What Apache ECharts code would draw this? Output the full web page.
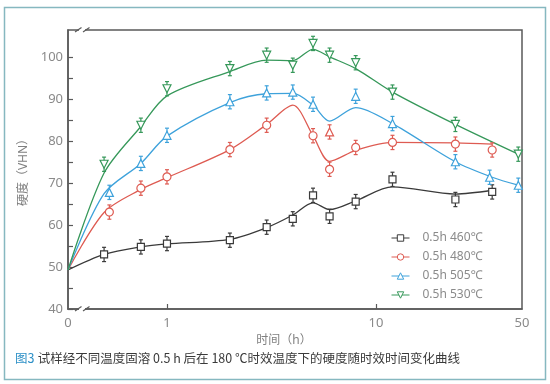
<!DOCTYPE html>
<html><head><meta charset="utf-8">
<script src="https://cdn.jsdelivr.net/npm/echarts@6/dist/echarts.min.js"></script>
<style>html,body{margin:0;padding:0;background:#fff}#c{width:550px;height:384px}</style>
</head><body><div id="c"></div>
<script>
// ---- data (time in h, hardness in VHN) ----
const seriesNames = ['0.5h 460℃', '0.5h 480℃', '0.5h 505℃', '0.5h 530℃'];
const colors = ['#3a3a3a', '#de5b52', '#3ea2db', '#36985a'];
// fitted curves (knots)
const curve460 = [[0,49.3],[0.5,53],[0.75,54.8],[1,55.5],[2,56.6],[3,59.4],[4,62.4],[5,65.3],[6,63.7],[8,65.8],[12,69.1],[24,67.4],[36,68.3]];
const curve480 = [[0,49.3],[0.5,63],[0.75,68.5],[1,71.3],[2,78],[3,84],[4,88.6],[5,81.3],[6,75.2],[8,77.8],[12,79.7],[24,79.6],[36,79.3]];
const curve505 = [[0,49.3],[0.5,67.5],[0.75,74.7],[1,81.2],[2,89.2],[3,91.3],[4,91.4],[5,88.6],[6,84.8],[8,88],[12,84.2],[24,75.1],[36,71.4],[48,69.5]];
const curve530 = [[0,49.3],[0.5,72.4],[0.75,83.5],[1,90.8],[2,96.6],[3,99.3],[4,99.2],[5,101.9],[6,100.1],[8,97.3],[12,91.7],[24,84],[48,76.9]];
// measured points
const pts460 = [[0.5,53],[0.75,54.8],[1,55.6],[2,56.4],[3,59.5],[4,61.5],[5,67.1],[6,62.1],[8,65.6],[12,70.9],[24,66.1],[36,67.9]];
const pts480 = [[0.53,63.1],[0.75,68.8],[1,71.5],[2,78],[3,83.8],[5,81.3],[6,73.3],[8,78.5],[12,79.7],[24,79.3],[36,77.9]];
const pts480Triangle = [[6,82.2]];
const pts505 = [[0.53,67.8],[0.75,74.7],[1,81.4],[2,89.4],[3,91.5],[4,91.7],[5,88.8],[8,90.7],[12,84.2],[24,75.1],[35,71.4],[48,69.5]];
const pts530 = [[0.5,74.5],[0.75,83.8],[1,92.5],[2,97.3],[3,100.5],[4,98.1],[5,103.3],[6,100.5],[8,98.7],[12,91.7],[24,84],[48,76.9]];
const errHalf = 1.7;
// axes
const X_ZERO = 0.336;            // log-axis position that stands for t = 0
const X_MAX = 50;
const xLabelValues = [X_ZERO, 1, 10, 50];
const xTickValues = [1, 10];
const yLabelValues = [40, 50, 60, 70, 80, 90, 100];
const yTickValues = [40, 45, 50, 55, 60, 65, 70, 75, 80, 85, 90, 95, 100];
const Y_MIN = 40, Y_MAX = 106.5;

const downTri = 'path://M0,0L10,0L5,9Z';
const symbols = ['rect', 'circle', 'triangle', downTri];
const curves = [curve460, curve480, curve505, curve530];
const points = [pts460, pts480, pts505, pts530];

const toX = t => (t === 0 ? X_ZERO : t);
const mapPts = arr => arr.map(p => [toX(p[0]), p[1]]);

const series = [];
curves.forEach((c, i) => {
  series.push({
    name: seriesNames[i], type: 'line', smooth: 0.3, data: mapPts(c),
    showSymbol: false, symbol: symbols[i], symbolSize: 8,
    lineStyle: { color: colors[i], width: 1.3 },
    itemStyle: { color: '#fff', borderColor: colors[i], borderWidth: 1 },
    z: 2, silent: true
  });
});
points.forEach((p, i) => {
  let data = mapPts(p);
  if (i === 1) data = data.concat(pts480Triangle.map(q => ({ value: [q[0], q[1]], symbol: 'triangle' })));
  series.push({
    name: seriesNames[i], type: 'custom', z: 3, silent: true,
    data: data.map(d => (Array.isArray(d) ? d : d.value)),
    renderItem: (params, api) => {
      const x = api.value(0), y = api.value(1);
      const top = api.coord([x, y + errHalf]);
      const bot = api.coord([x, y - errHalf]);
      const st = { stroke: colors[i], lineWidth: 1.2 };
      return { type: 'group', children: [
        { type: 'line', shape: { x1: top[0], y1: top[1], x2: bot[0], y2: bot[1] }, style: st },
        { type: 'line', shape: { x1: top[0] - 2, y1: top[1], x2: top[0] + 2, y2: top[1] }, style: st },
        { type: 'line', shape: { x1: bot[0] - 2, y1: bot[1], x2: bot[0] + 2, y2: bot[1] }, style: st }
      ] };
    }
  });
  series.push({
    name: seriesNames[i], type: 'scatter', z: 4, silent: true, data: data,
    symbol: symbols[i], symbolSize: i === 0 ? 7 : 8,
    itemStyle: { color: '#fff', borderColor: colors[i], borderWidth: 1.2, opacity: 1 }
  });
});

const chart = echarts.init(document.getElementById('c'), null, { renderer: 'canvas' });
const axisColor = '#5a5a5a';
chart.setOption({
  animation: false,
  backgroundColor: '#fff',
  textStyle: { fontFamily: '"Noto Sans", "Noto Sans CJK SC", sans-serif' },
  grid: { left: 68, right: 28, top: 30, bottom: 75, show: true, borderColor: axisColor, borderWidth: 1.5, backgroundColor: 'transparent' },
  xAxis: {
    type: 'log', logBase: 10, min: X_ZERO, max: X_MAX,
    name: '时间（h）', nameLocation: 'middle', nameGap: 24,
    nameTextStyle: { color: '#808080', fontSize: 12, padding: [0, 22, 0, 0] },
    axisLine: { lineStyle: { color: axisColor, width: 1.5 } },
    axisTick: { inside: true, length: 5, customValues: xTickValues, lineStyle: { color: axisColor, width: 1.2 } },
    axisLabel: { customValues: xLabelValues, color: '#8a8a8a', fontSize: 13, margin: 8,
      formatter: v => (v < 0.5 ? '0' : String(Math.round(v))) },
    minorTick: { show: false }, splitLine: { show: false }
  },
  yAxis: {
    type: 'value', min: Y_MIN, max: Y_MAX,
    name: '硬度（VHN）', nameLocation: 'middle', nameGap: 31, nameRotate: 90,
    nameTextStyle: { color: '#808080', fontSize: 12 },
    axisLine: { show: true, lineStyle: { color: axisColor, width: 1.5 } },
    axisTick: { show: true, inside: true, length: 5, customValues: yTickValues, lineStyle: { color: axisColor, width: 1.2 } },
    axisLabel: { customValues: yLabelValues, color: '#8a8a8a', fontSize: 13, margin: 5 },
    splitLine: { show: false }
  },
  legend: {
    orient: 'vertical', left: 386, top: 227, itemWidth: 18, itemHeight: 8, itemGap: 7,
    textStyle: { color: '#8a8a8a', fontSize: 12, padding: [0, 0, 0, 8] },
    data: seriesNames.map((n, i) => ({ name: n,
      itemStyle: { color: '#fff', borderColor: colors[i], borderWidth: 1 },
      lineStyle: { color: colors[i], width: 1 } })),
    selectedMode: false
  },
  series: series,
  graphic: [
    { type: 'rect', shape: { x: 4.5, y: 7.5, width: 541, height: 372 }, style: { fill: 'none', stroke: '#86b8c0', lineWidth: 1.5 }, z: -1 },
    // axis breaks
    { type: 'rect', shape: { x: 79, y: 305, width: 6, height: 8 }, style: { fill: '#fff' }, z: 10 },
    { type: 'line', shape: { x1: 75, y1: 311, x2: 81.5, y2: 306.5 }, style: { stroke: axisColor, lineWidth: 1.2 }, z: 11 },
    { type: 'line', shape: { x1: 83, y1: 311, x2: 89.5, y2: 306.5 }, style: { stroke: axisColor, lineWidth: 1.2 }, z: 11 },
    { type: 'rect', shape: { x: 79, y: 26, width: 6, height: 8 }, style: { fill: '#fff' }, z: 10 },
    { type: 'line', shape: { x1: 75, y1: 32, x2: 81.5, y2: 27.5 }, style: { stroke: axisColor, lineWidth: 1.2 }, z: 11 },
    { type: 'line', shape: { x1: 83, y1: 32, x2: 89.5, y2: 27.5 }, style: { stroke: axisColor, lineWidth: 1.2 }, z: 11 },
    // caption
    { type: 'text', left: 15, top: 352, z: 12,
      style: { text: '{a|图3} {b|试样经不同温度固溶 0.5 h 后在 180 ℃时效温度下的硬度随时效时间变化曲线}',
        rich: { a: { fill: '#2b8fc6', fontSize: 12.5, fontFamily: '"Noto Sans CJK SC", sans-serif' },
                b: { fill: '#3a3a3a', fontSize: 12.5, fontFamily: '"Noto Sans CJK SC", sans-serif' } } } }
  ]
});
</script></body></html>
